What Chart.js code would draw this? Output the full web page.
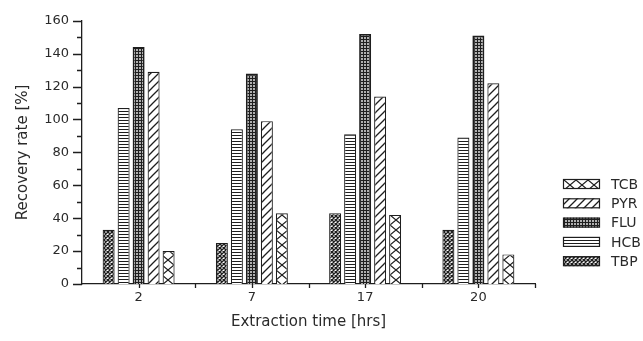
<!DOCTYPE html>
<html>
<head>
<meta charset="utf-8">
<script src="https://cdn.jsdelivr.net/npm/chart.js@4"></script>
<style>
html,body{margin:0;padding:0;background:#fff;}
#wrap{width:643px;height:341px;position:relative;}
</style>
</head>
<body>
<div id="wrap"><canvas id="c" width="643" height="341"></canvas></div>
<script>
// ---- data ----
const categories = ['2', '7', '17', '20'];
const seriesNames = ['TBP', 'HCB', 'FLU', 'PYR', 'TCB'];
const tbpValues = [33, 25, 43, 33];
const hcbValues = [107, 94, 91, 89];
const fluValues = [144, 128, 152, 151];
const pyrValues = [129, 99, 114, 122];
const tcbValues = [20, 43, 42, 18];
const yTickValues = [0, 20, 40, 60, 80, 100, 120, 140, 160];
const xTitle = 'Extraction time [hrs]';
const yTitle = 'Recovery rate [%]';

const INK = '#1e1e1e';
const TXT = '#2a2a2a';

function tile(w, h, draw) {
  const c = document.createElement('canvas');
  c.width = w; c.height = h;
  const g = c.getContext('2d');
  g.fillStyle = '#fff'; g.fillRect(0, 0, w, h);
  g.strokeStyle = INK; g.fillStyle = INK;
  draw(g, w, h);
  return document.getElementById('c').getContext('2d').createPattern(c, 'repeat');
}
const patterns = {
  TBP: tile(4, 4, (g) => {
    g.lineWidth = 1.4;
    g.beginPath();
    g.moveTo(0, 0); g.lineTo(4, 4);
    g.moveTo(4, 0); g.lineTo(0, 4);
    g.stroke();
  }),
  HCB: tile(4, 3, (g) => { g.fillRect(0, 0, 4, 1); }),
  FLU: tile(3, 3, (g) => { g.fillRect(0, 0, 3, 1); g.fillRect(0, 0, 1, 3); g.fillStyle = 'rgba(30,30,30,0.35)'; g.fillRect(1, 1, 2, 2); }),
  PYR: tile(8, 8, (g) => {
    g.lineWidth = 1.3;
    g.beginPath();
    g.moveTo(-1, 9); g.lineTo(9, -1);
    g.moveTo(-1, 1); g.lineTo(1, -1);
    g.moveTo(7, 9); g.lineTo(9, 7);
    g.stroke();
  }),
  TCB: tile(12, 10, (g) => {
    g.lineWidth = 1.2;
    g.beginPath();
    g.moveTo(0, 0); g.lineTo(12, 10);
    g.moveTo(12, 0); g.lineTo(0, 10);
    g.stroke();
  })
};

const seriesValues = [tbpValues, hcbValues, fluValues, pyrValues, tcbValues];
const datasets = seriesNames.map((name, i) => ({
  label: name,
  data: seriesValues[i],
  backgroundColor: patterns[name],
  borderColor: INK,
  borderWidth: name === 'FLU' ? 1.8 : 1.2,
  borderSkipped: 'bottom',
  barPercentage: 0.8,
  categoryPercentage: 0.662
}));

const FONT = "'DejaVu Sans', sans-serif";

const axisDecor = {
  id: 'axisDecor',
  afterDraw(chart) {
    const ctx = chart.ctx;
    const xs = chart.scales.x, ys = chart.scales.y;
    const x0 = xs.left, yb = ys.getPixelForValue(0);
    ctx.save();
    ctx.strokeStyle = INK;
    ctx.lineWidth = 1.3;
    ctx.beginPath();
    // y axis ticks (major every 20, minor every 10)
    for (let v = 0; v <= 160; v += 10) {
      const y = Math.round(ys.getPixelForValue(v)) + 0.5;
      const len = (v % 20 === 0) ? 9 : 5;
      ctx.moveTo(x0 - len, y); ctx.lineTo(x0, y);
    }
    // x axis ticks at centers and boundaries
    for (let i = 0; i <= categories.length - 0.5; i += 0.5) {
      const x = Math.round(xs.getPixelForValue(i)) + 0.5;
      ctx.moveTo(x, yb); ctx.lineTo(x, yb + 4);
    }
    ctx.stroke();

    // legend (top: TCB ... bottom: TBP)
    const order = chart.data.datasets.map((d, i) => i).reverse();
    ctx.font = "14px " + FONT;
    ctx.textBaseline = 'middle';
    ctx.textAlign = 'left';
    order.forEach((di, k) => {
      const ds = chart.data.datasets[di];
      const cy = 184 + k * 19.3;
      ctx.fillStyle = ds.backgroundColor;
      ctx.fillRect(563, cy - 5, 37, 10);
      ctx.lineWidth = 1.2;
      ctx.strokeStyle = INK;
      ctx.strokeRect(563.5, cy - 4.5, 36, 9);
      ctx.fillStyle = TXT;
      ctx.fillText(ds.label, 611, cy + 1);
    });
    ctx.restore();
  }
};

new Chart(document.getElementById('c'), {
  type: 'bar',
  data: { labels: categories, datasets },
  options: {
    responsive: false,
    animation: false,
    devicePixelRatio: 1,
    layout: { padding: { left: 0, right: 108, top: 19, bottom: 0 } },
    plugins: { legend: { display: false }, tooltip: { enabled: false } },
    scales: {
      x: {
        offset: true,
        grid: { display: false, drawTicks: false },
        border: { display: true, color: INK, width: 1.3 },
        ticks: { color: TXT, font: { family: FONT, size: 13 }, padding: 6, maxRotation: 0 },
        title: { display: true, text: xTitle, color: TXT, font: { family: FONT, size: 15 }, padding: { top: 4, bottom: 10 } },
        afterFit(s) { s.height = 57; }
      },
      y: {
        min: 0, max: 160,
        grid: { display: false, drawTicks: false },
        border: { display: true, color: INK, width: 1.3 },
        afterBuildTicks(s) { s.ticks = yTickValues.map(v => ({ value: v })); },
        ticks: { color: TXT, font: { family: FONT, size: 13 }, padding: 13 },
        title: { display: true, text: yTitle, color: TXT, font: { family: FONT, size: 15 }, padding: { top: 14, bottom: 0 } },
        afterFit(s) { s.width = 82; }
      }
    }
  },
  plugins: [axisDecor]
});
</script>
</body>
</html>
